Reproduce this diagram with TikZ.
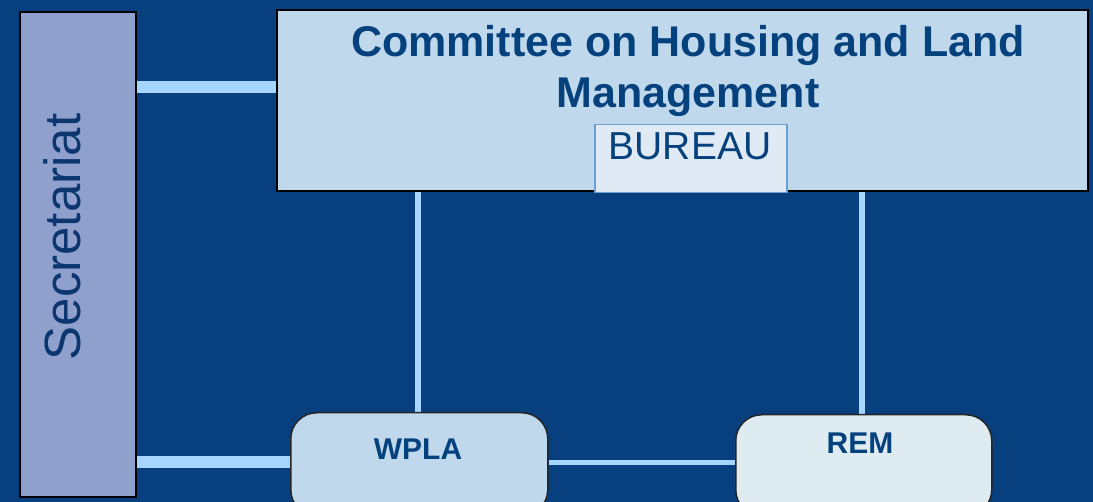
\documentclass[tikz,border=0pt]{standalone}
\usepackage{fontspec}
\setmainfont{Liberation Sans}
\usetikzlibrary{backgrounds,calc}
\definecolor{bgblue}{RGB}{7,63,127}
\definecolor{secfill}{RGB}{144,160,204}
\definecolor{boxfill}{RGB}{192,216,236}
\definecolor{remfill}{RGB}{222,235,240}
\definecolor{burfill}{RGB}{224,234,245}
\definecolor{burline}{RGB}{106,159,208}
\definecolor{txtblue}{RGB}{5,65,125}
\definecolor{sectxt}{RGB}{11,54,112}
\definecolor{linkblue}{RGB}{166,214,255}
\tikzset{
  panel/.style={draw=black, line width=2pt, inner sep=0pt, anchor=north west},
  wgbox/.style={draw=black!85, line width=1.5pt, rounded corners=26pt, inner sep=0pt, anchor=north west},
  link/.style={draw=linkblue, line cap=butt},
  titletxt/.style={font=\fontsize{43}{51}\selectfont\bfseries, text=txtblue, anchor=base, inner sep=0pt},
  wgtxt/.style={font=\fontsize{30}{36}\selectfont\bfseries, text=txtblue, anchor=base, inner sep=0pt}
}
\begin{document}
\begin{tikzpicture}[x=1pt,y=-1pt]
\useasboundingbox (0,0) rectangle (1093,502);
\clip (0,0) rectangle (1093,502);
\begin{pgfonlayer}{background}
\fill[bgblue] (0,0) rectangle (1093,502);
\end{pgfonlayer}
% nodes
\node[panel, fill=secfill, minimum width=116pt, minimum height=485pt] (secr) at (19,11) {};
\node[font=\fontsize{51}{60}\selectfont, text=sectxt, rotate=90, anchor=base, inner sep=0pt] (sectext) at (80,237) {Secretariat};
\node[panel, fill=boxfill, minimum width=811pt, minimum height=181pt] (comm) at (276,9) {};
\node[titletxt] (title1) at (688,57) {Committee on Housing and Land};
\node[titletxt] (title2) at (688,108) {Management};
\node[draw=burline, line width=1.5pt, fill=burfill, inner sep=0pt, anchor=north west, minimum width=192pt, minimum height=68pt] (bureau) at (594,124) {};
\node[font=\fontsize{39}{46}\selectfont, text=txtblue, anchor=base, inner sep=0pt] (burtext) at (690,160) {BUREAU};
\node[wgbox, fill=boxfill, minimum width=257pt, minimum height=103pt] (wpla) at (290,412) {};
\node[wgtxt] (wplatext) at (418,460) {WPLA};
\node[wgbox, fill=remfill, minimum width=256pt, minimum height=101pt] (rem) at (735,414) {};
\node[wgtxt] (remtext) at (860,454) {REM};
% connectors
\begin{pgfonlayer}{background}
\draw[link, line width=12pt] (secr.east |- {0,87}) -- (comm.west |- {0,87});
\draw[link, line width=12pt] (secr.east |- {0,462}) -- (wpla.west |- {0,462});
\draw[link, line width=6pt] (comm.south -| {418,0}) -- (wpla.north -| {418,0});
\draw[link, line width=6pt] (comm.south -| {862,0}) -- (rem.north -| {862,0});
\draw[link, line width=5pt] (wpla.east |- {0,462.5}) -- (rem.west |- {0,462.5});
\end{pgfonlayer}
\end{tikzpicture}
\end{document}
